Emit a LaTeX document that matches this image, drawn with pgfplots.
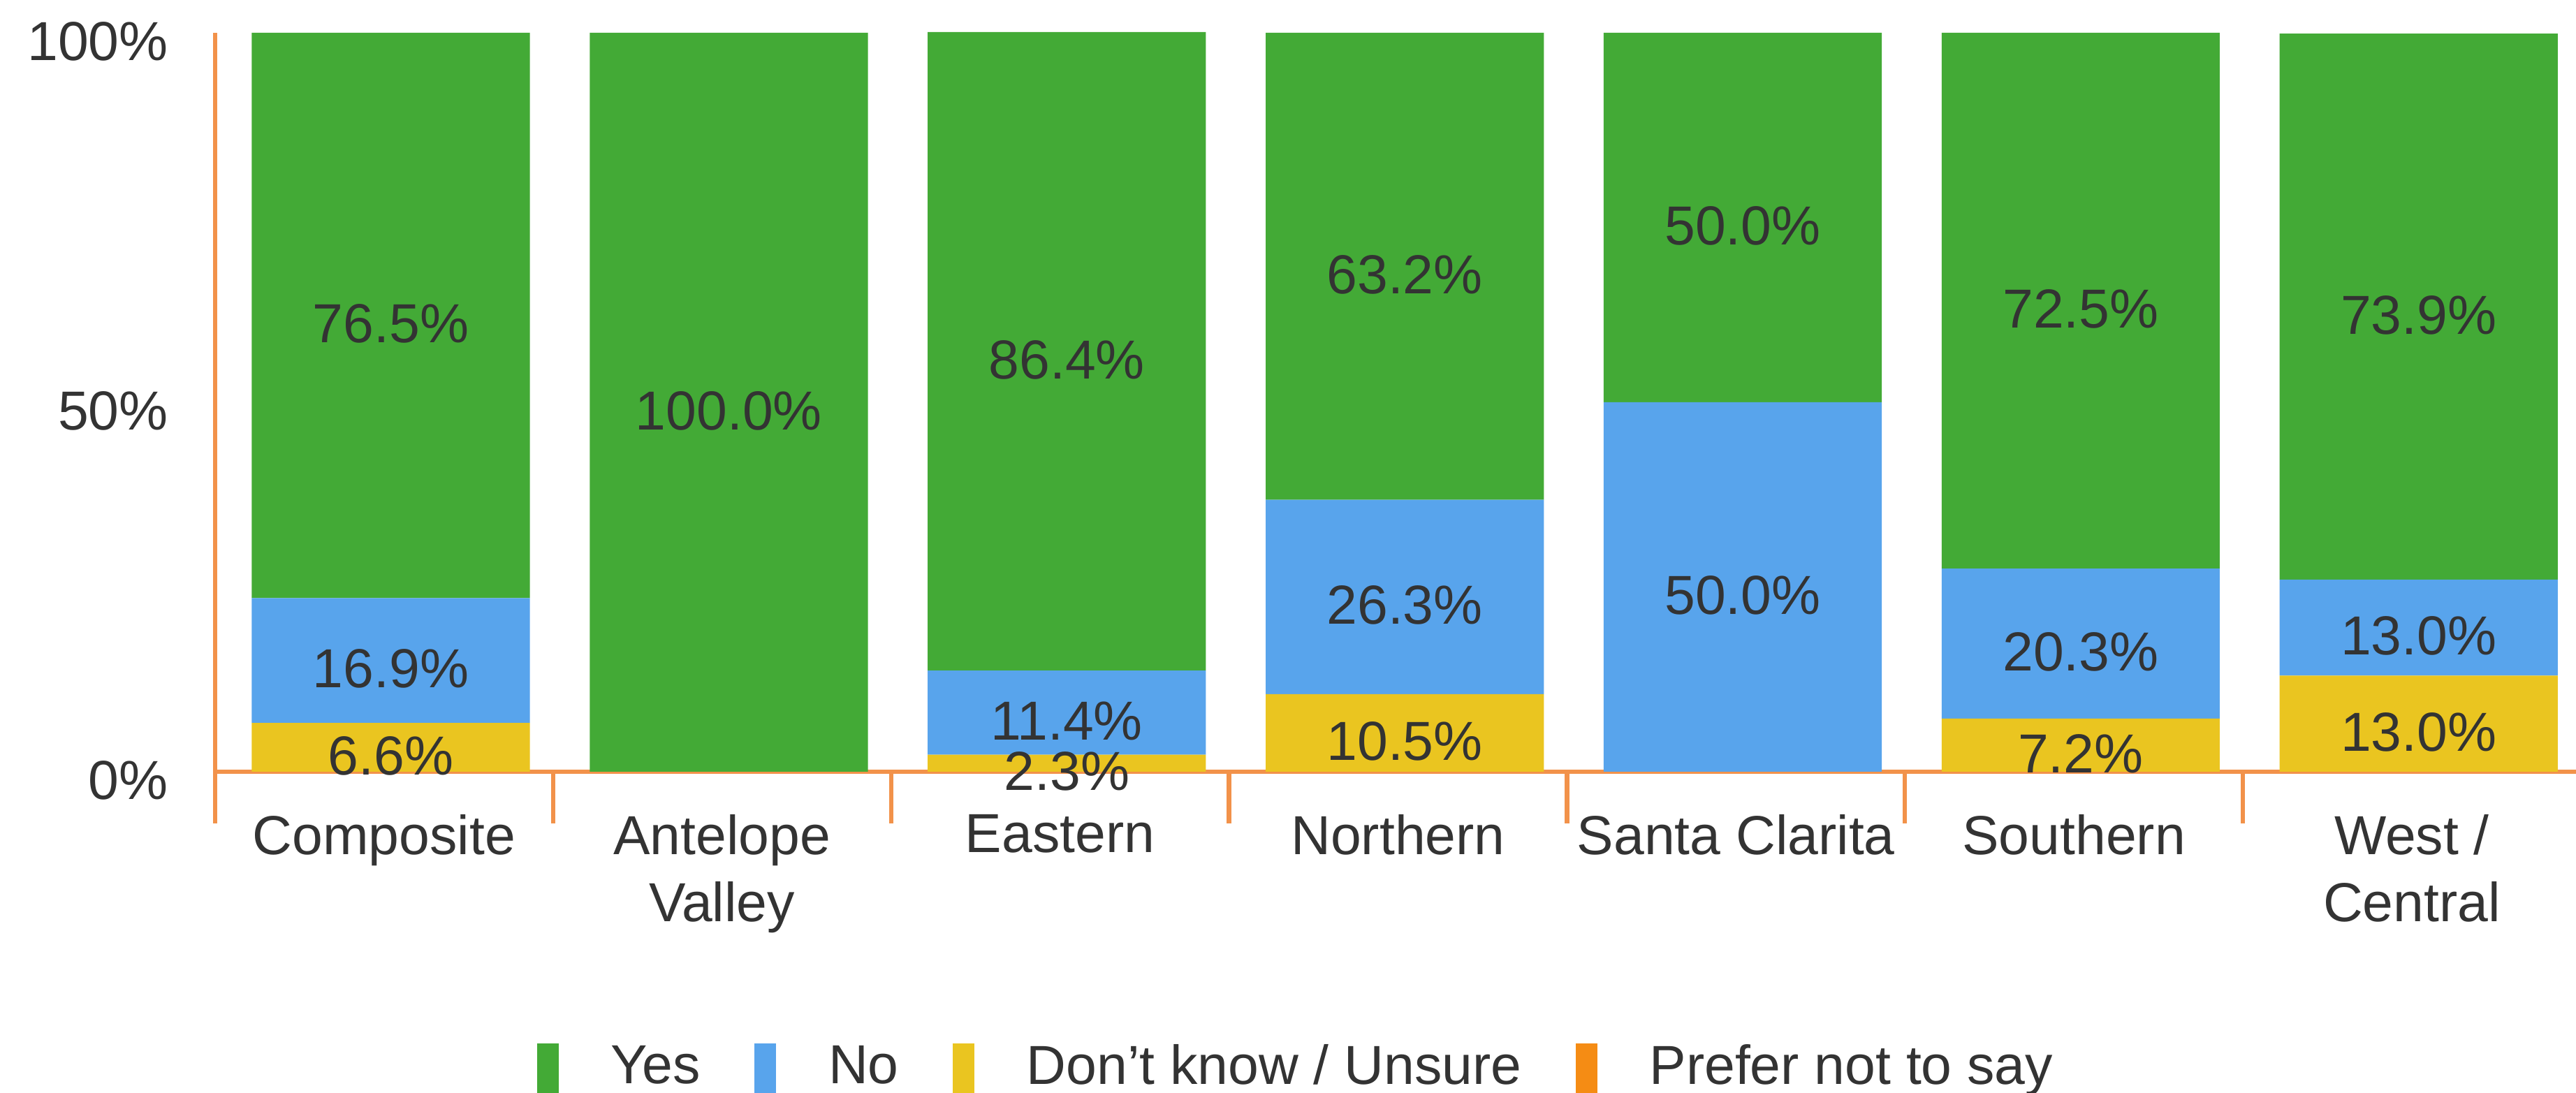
\documentclass[border=0pt]{standalone}
\usepackage{fontspec}
\setmainfont{Liberation Sans}
\usepackage{pgfplots}
\usepackage{pgfplotstable}
\pgfplotsset{compat=1.18}
\definecolor{cyes}{HTML}{43AA36}
\definecolor{cno}{HTML}{58A4EC}
\definecolor{cdk}{HTML}{EAC520}
\definecolor{cpref}{HTML}{F58C14}
\definecolor{axisorange}{HTML}{F2924A}
\definecolor{txt}{HTML}{333333}

\pgfplotstableread{
x yes no dk
0 76.5 16.9 6.6
1 100.0 0 0
2 86.4 11.4 2.3
3 63.2 26.3 10.5
4 50.0 50.0 0
5 72.5 20.3 7.2
6 73.9 13.0 13.0
}\datatable

\newcommand{\chartfont}{\fontsize{11.2}{13.7}\selectfont}

\pgfplotsset{
  seglabels/.style={
    visualization depends on={\thisrow{#1} \as \segval},
    nodes near coords={\pgfmathparse{\segval>0.05}\ifnum\pgfmathresult>0 \pgfmathprintnumber[fixed,fixed zerofill,precision=1]{\segval}\%\fi},
    every node near coord/.append style={anchor=center, yshift=-0.06cm, font=\chartfont, text=txt, inner sep=0pt},
  },
  mylegend/.style={legend image code/.code={\fill[##1] (0cm,-0.1775cm) rectangle (0.155cm,0.1775cm);}},
}

\begin{document}
\begin{tikzpicture}
\useasboundingbox (-1.54cm,-2.30cm) rectangle (16.90cm,5.525cm);
\begin{axis}[
  at={(0,0)}, anchor=south west,
  scale only axis,
  width=16.935cm, height=5.29cm,
  ybar stacked,
  bar width=0.823,
  bar shift=0.02,
  xmin=-0.5, xmax=6.5,
  ymin=0, ymax=100,
  enlargelimits=false,
  clip=false,
  /pgf/number format/assume math mode=true,
  axis x line*=bottom,
  axis y line*=left,
  axis line style={draw=axisorange, line width=0.9pt, -},
  x axis line style={-},
  y axis line style={-},
  xtick={0,...,6},
  xticklabels={Composite, {Antelope\\Valley}, Eastern, Northern, {Santa Clarita}, Southern, {West /\\Central}},
  minor xtick={-0.5,0.5,...,6.5},
  ytick={0,50,100},
  yticklabels={0\%,50\%,100\%},
  major tick length=0pt,
  minor tick length=0.37cm,
  tick align=outside,
  tick style={draw=axisorange, line width=0.9pt},
  xticklabel style={align=center, anchor=north, inner sep=0pt, yshift=-0.30cm, font=\chartfont, text=txt},
  yticklabel style={anchor=east, inner sep=0pt, xshift=-0.33cm, yshift=-0.06cm, font=\chartfont, text=txt},
  legend columns=4,
  legend cell align=left,
  legend style={at={(0.136,-0.401)}, anchor=west, draw=none, fill=none, inner sep=0pt, outer sep=0pt,
    font=\chartfont, text=txt,
    nodes={inner sep=0pt},
    /tikz/every odd column/.append style={column sep=0.375cm},
    /tikz/every even column/.append style={column sep=0.385cm}},
]
\addlegendimage{mylegend, fill=cyes, draw=none}
\addlegendimage{mylegend, fill=cno, draw=none}
\addlegendimage{mylegend, fill=cdk, draw=none}
\addlegendimage{mylegend, fill=cpref, draw=none}
\addplot[fill=cdk, draw=none, seglabels=dk, forget plot] table[x=x, y=dk] {\datatable};
\addplot[fill=cno, draw=none, seglabels=no, forget plot] table[x=x, y=no] {\datatable};
\addplot[fill=cyes, draw=none, seglabels=yes, forget plot] table[x=x, y=yes] {\datatable};
\legend{Yes, No, Don’t know / Unsure, Prefer not to say}
\end{axis}
\end{tikzpicture}
\end{document}
